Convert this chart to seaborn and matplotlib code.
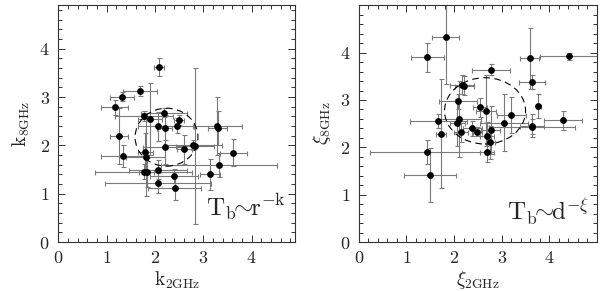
import numpy as np
import seaborn as sns
import matplotlib.pyplot as plt
from matplotlib.patches import Ellipse
from matplotlib.ticker import MultipleLocator, FixedLocator

# Estilo
sns.set_style("ticks")
plt.rcParams['font.family'] = ['cmr10', 'DejaVu Serif']
plt.rcParams['mathtext.fontset'] = 'cm'
plt.rcParams['axes.formatter.use_mathtext'] = True

# Panel izquierdo: k (2 GHz vs 8 GHz)
k2 = [2.09, 1.69, 1.32, 1.17, 1.26, 1.34, 1.78, 1.89, 2.19, 2.50,
      2.46, 2.06, 2.20, 3.29, 3.30, 2.20, 2.61, 2.78, 2.83, 3.62,
      1.80, 1.81, 3.32, 1.77, 1.83, 2.06, 2.39, 3.14, 2.06, 2.41]
k8 = [3.62, 3.13, 3.01, 2.79, 2.19, 1.78, 2.61, 2.55, 2.68, 2.52,
      2.41, 2.40, 2.37, 2.41, 2.36, 1.97, 1.92, 2.01, 1.99, 1.85,
      1.86, 1.76, 1.59, 1.46, 1.45, 1.50, 1.37, 1.40, 1.22, 1.12]
k2_err = [0.10, 0.35, 0.24, 0.28, 0.19, 0.45, 0.60, 0.25, 0.48, 0.10,
          0.35, 0.40, 0.15, 0.50, 0.20, 0.45, 0.15, 0.60, 0.40, 0.28,
          0.15, 0.40, 1.20, 1.00, 0.15, 0.60, 0.50, 0.20, 1.10, 0.55]
k8_err = [0.19, 0.10, 0.10, 0.16, 0.58, 0.22, 0.10, 0.75, 0.10, 0.10,
          0.15, 0.30, 0.25, 0.60, 0.35, 0.35, 0.30, 0.10, 1.62, 0.28,
          0.40, 0.80, 0.25, 0.15, 0.30, 0.20, 0.15, 0.32, 0.20, 0.25]

# Panel derecho: xi (2 GHz vs 8 GHz)
xi2 = [1.82, 1.44, 2.78, 3.59, 4.41, 3.63, 2.16, 2.21, 2.09, 2.54,
       2.67, 1.67, 2.11, 2.07, 3.05, 2.38, 2.49, 2.14, 1.72, 2.77,
       2.69, 2.76, 1.44, 2.69, 1.49, 3.77, 3.20, 4.29, 3.63, 3.63]
xi8 = [4.34, 3.90, 3.64, 3.88, 3.92, 3.38, 3.32, 3.30, 2.97, 2.85,
       2.77, 2.56, 2.60, 2.52, 2.52, 2.40, 2.33, 2.32, 2.29, 2.37,
       2.23, 2.11, 1.90, 1.90, 1.41, 2.87, 2.69, 2.57, 2.46, 2.44]
xi2_err = [0.29, 0.35, 0.40, 0.20, 0.60, 0.27, 0.25, 0.20, 0.40, 0.15,
           0.20, 0.60, 0.45, 0.15, 0.50, 0.20, 0.10, 0.15, 0.10, 0.20,
           0.15, 0.10, 1.20, 0.15, 0.55, 0.05, 0.30, 0.40, 0.25, 0.90]
xi8_err = [1.00, 0.30, 0.12, 0.65, 0.07, 0.15, 0.20, 0.20, 0.15, 0.20,
           0.75, 0.15, 0.80, 0.50, 0.60, 0.15, 0.10, 0.20, 1.15, 0.50,
           0.30, 0.35, 0.25, 0.20, 0.57, 0.25, 0.38, 0.20, 0.25, 0.15]

tick_vals = [0, 1, 2, 3, 4]

fig = plt.figure(figsize=(6.0, 2.91), dpi=100)
ax1 = fig.add_axes([0.097, 0.168, 0.395, 0.814])
ax2 = fig.add_axes([0.598, 0.168, 0.397, 0.814])


def panel(ax, x, y, xe, ye, lim, circ, xlab, ylab, law, law_pos):
    ax.errorbar(x, y, xerr=xe, yerr=ye, fmt='none', ecolor='#7a7a7a',
                elinewidth=0.8, capsize=1.8, capthick=0.8, zorder=1)
    sns.scatterplot(x=x, y=y, ax=ax, color='black', s=24,
                    edgecolor='black', linewidth=0, zorder=3)
    ax.add_patch(Ellipse(circ[:2], circ[2], circ[3], fill=False,
                         ls=(0, (6, 4)), lw=0.8, color='black', zorder=2))
    ax.set_xlim(0, lim)
    ax.set_ylim(0, lim)
    ax.xaxis.set_major_locator(FixedLocator(tick_vals))
    ax.yaxis.set_major_locator(FixedLocator(tick_vals))
    ax.xaxis.set_minor_locator(MultipleLocator(0.2))
    ax.yaxis.set_minor_locator(MultipleLocator(0.2))
    ax.tick_params(which='both', direction='in', top=True, right=True,
                   labelsize=13, width=0.7, color='#333333')
    ax.tick_params(which='major', length=5, pad=6)
    ax.tick_params(which='minor', length=2.8)
    for s in ax.spines.values():
        s.set_linewidth(0.8)
        s.set_color('#333333')
    ax.set_xlabel(xlab, fontsize=14, labelpad=2)
    ax.set_ylabel(ylab, fontsize=14, labelpad=5)
    ax.text(law_pos[0], law_pos[1], law, fontsize=18)


panel(ax1, k2, k8, k2_err, k8_err, 4.9, (2.24, 2.17, 1.3, 1.2),
      r'$\mathrm{k_{2GHz}}$', r'$\mathrm{k_{8GHz}}$',
      r'$\mathrm{T_b}\!\!\sim\!\!\mathrm{r^{-k}}$', (3.05, 0.55))
panel(ax2, xi2, xi8, xi2_err, xi8_err, 5.0, (2.65, 2.77, 1.7, 1.4),
      r'$\xi_{\mathrm{2GHz}}$', r'$\xi_{\mathrm{8GHz}}$',
      r'$\mathrm{T_b}\!\!\sim\!\!\mathrm{d^{-\xi}}$', (3.12, 0.47))

plt.savefig('out.png', dpi=100)
plt.close()
